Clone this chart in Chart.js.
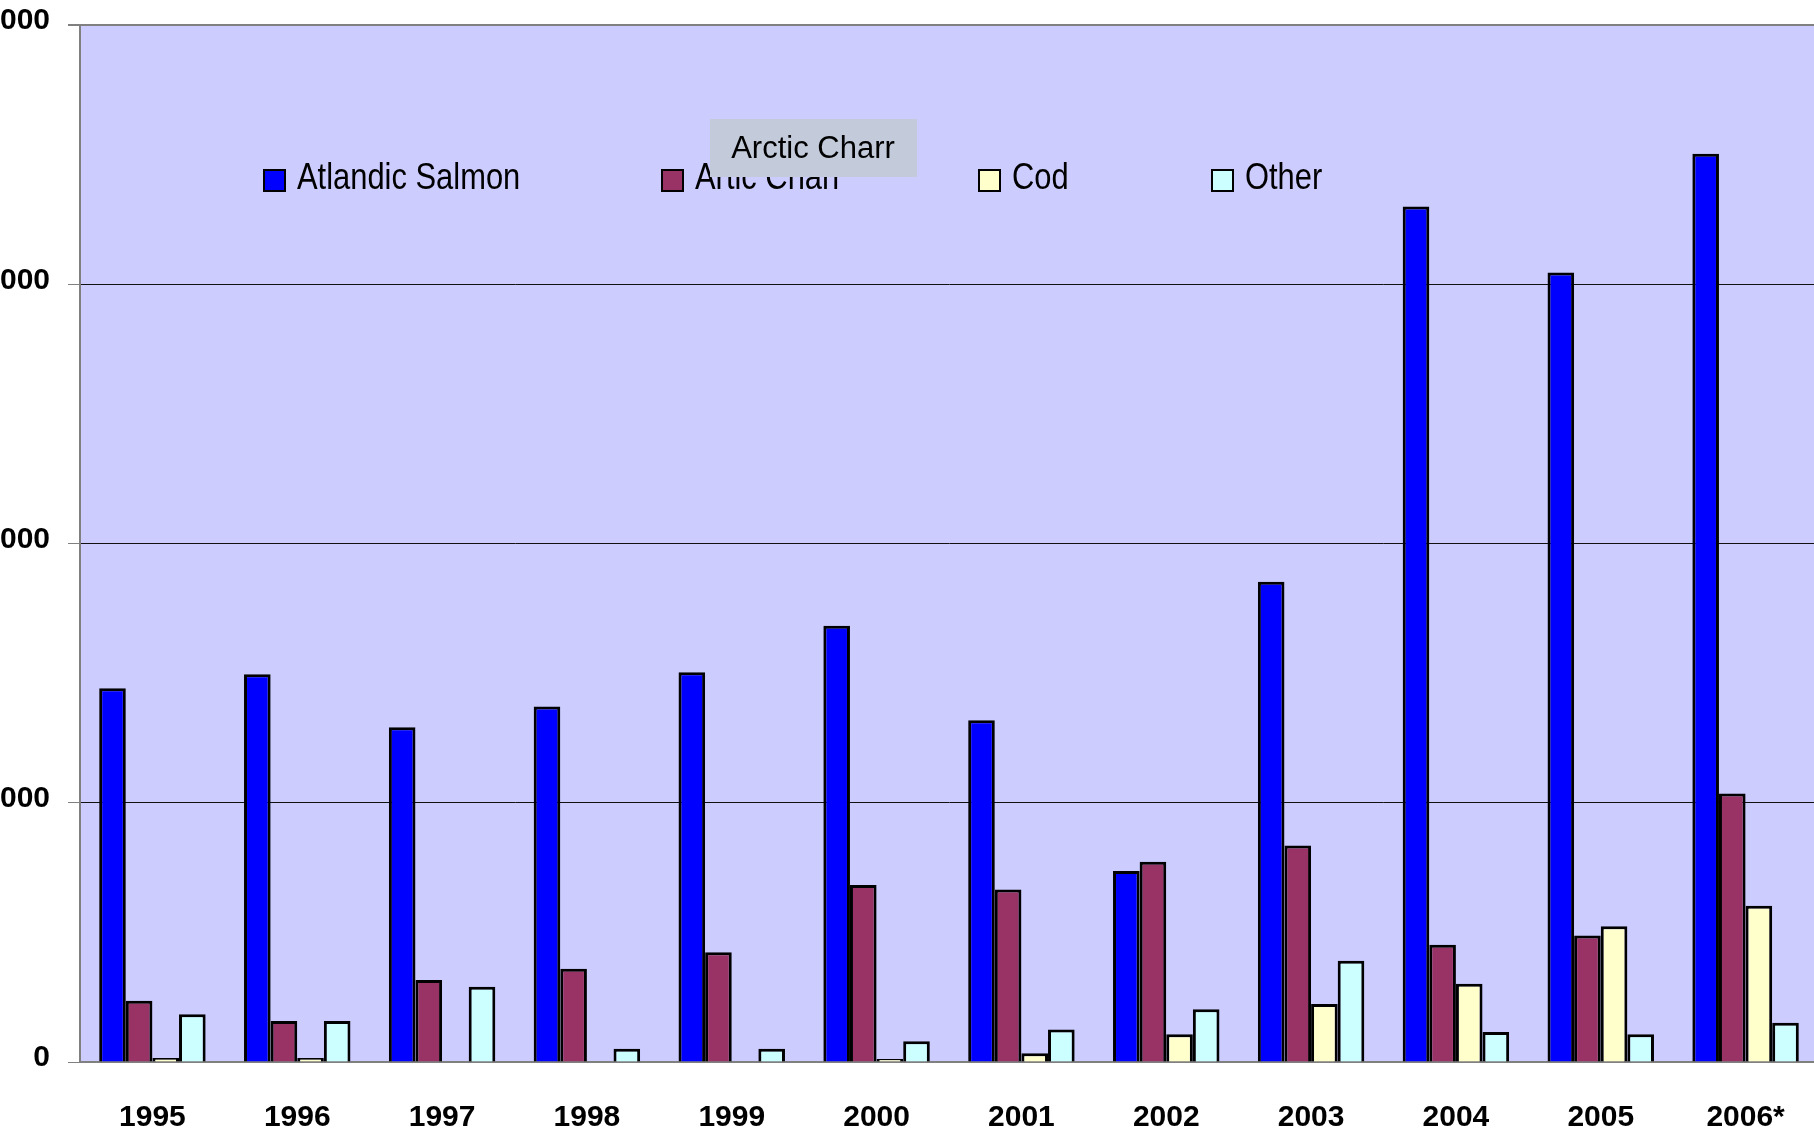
<!DOCTYPE html>
<html>
<head>
<meta charset="utf-8">
<title>Aquaculture production</title>
<script src="https://cdn.jsdelivr.net/npm/chart.js@4.4.1/dist/chart.umd.min.js"></script>
<style>
  html, body { margin: 0; padding: 0; background: #fff; overflow: hidden; width: 1814px; height: 1133px; }
  #wrap { position: absolute; left: -50px; top: 0; width: 1868px; height: 1133px; }
</style>
</head>
<body>
<div id="wrap"><canvas id="chart" width="1868" height="1133"></canvas></div>
<script>
// values (tonnes)
var years  = ['1995', '1996', '1997', '1998', '1999', '2000', '2001', '2002', '2003', '2004', '2005', '2006*'];
var salmon = [2883, 2991, 2583, 2742, 3007, 3366, 2637, 1473, 3705, 6600, 6090, 7006];
var charr  = [473, 316, 633, 720, 846, 1366, 1330, 1545, 1670, 905, 976, 2071];
var cod    = [31, 31, 0, 0, 0, 23, 67, 215, 447, 604, 1048, 1206];
var other  = [368, 316, 581, 103, 103, 160, 251, 406, 782, 231, 215, 303];
var yTicks = [0, 2000, 4000, 6000, 8000];

var sans = "'Liberation Sans', Arial, sans-serif";

// light blue plot area like the old Excel chart
var plotBackground = {
  id: 'plotBackground',
  beforeDraw: function(chart) {
    var a = chart.chartArea, ctx = chart.ctx;
    ctx.save();
    ctx.fillStyle = '#CCCCFF';
    ctx.fillRect(a.left, a.top, a.right - a.left, a.bottom - a.top);
    ctx.restore();
  }
};

// legend sits inside the plot, plus the hover label that was caught in the screenshot
var insideLegend = {
  id: 'insideLegend',
  afterDraw: function(chart) {
    var ctx = chart.ctx, left = chart.chartArea.left;
    var offsets = [184, 582, 899, 1132];
    ctx.save();
    ctx.textBaseline = 'middle';
    ctx.textAlign = 'left';
    chart.data.datasets.forEach(function(ds, i) {
      var x = left + offsets[i];
      ctx.fillStyle = ds.backgroundColor;
      ctx.fillRect(x, 170, 21, 21);
      ctx.lineWidth = 2;
      ctx.strokeStyle = '#000';
      ctx.strokeRect(x, 170, 21, 21);
      // narrow look: squeeze the text horizontally
      ctx.save();
      ctx.translate(x + 33, 179);
      ctx.scale(0.835, 1);
      ctx.font = '37px ' + sans;
      ctx.fillStyle = '#000';
      ctx.fillText(ds.label, 0, 0);
      ctx.restore();
    });

    ctx.fillStyle = '#C3CBDB';
    ctx.fillRect(left + 630, 119, 207, 58);
    ctx.fillStyle = '#000';
    ctx.font = '31px ' + sans;
    ctx.textAlign = 'center';
    ctx.fillText('Arctic Charr', left + 733, 149);
    ctx.restore();
  }
};

new Chart(document.getElementById('chart'), {
  type: 'bar',
  data: {
    labels: years,
    datasets: [
      { label: 'Atlandic Salmon', data: salmon, backgroundColor: '#0000FF' },
      { label: 'Artic Charr', data: charr, backgroundColor: '#993366' },
      { label: 'Cod', data: cod, backgroundColor: '#FFFFCC' },
      { label: 'Other', data: other, backgroundColor: '#CCFFFF' }
    ]
  },
  options: {
    responsive: false,
    animation: false,
    devicePixelRatio: 1,
    layout: { padding: { top: 25, left: 0, right: 0, bottom: 0 } },
    datasets: {
      bar: {
        borderColor: '#000',
        borderWidth: 3,
        categoryPercentage: 0.735,
        barPercentage: 1.0
      }
    },
    plugins: {
      legend: { display: false },
      tooltip: { enabled: false }
    },
    scales: {
      x: {
        grid: { display: false, drawTicks: false, tickLength: 0 },
        border: { display: true, color: '#808080', width: 2 },
        ticks: {
          color: '#000',
          font: { family: sans, size: 30, weight: 'bold' },
          padding: 38,
          maxRotation: 0,
          autoSkip: false
        },
        afterFit: function(axis) { axis.height = 71; axis.paddingLeft = 0; axis.paddingRight = 0; }
      },
      y: {
        min: 0,
        max: 8000,
        afterBuildTicks: function(axis) {
          axis.ticks = yTicks.map(function(v) { return { value: v }; });
        },
        grid: {
          color: function(c) { return (c.tick && (c.tick.value === 0 || c.tick.value === 8000)) ? '#808080' : '#111'; },
          lineWidth: function(c) { return (c.tick && c.tick.value === 8000) ? 2 : 1; },
          tickColor: '#808080',
          tickLength: 12
        },
        border: { display: true, color: '#808080', width: 2 },
        ticks: {
          color: '#000',
          font: { family: sans, size: 30, weight: 'bold' },
          padding: 18,
          labelOffset: -4
        },
        afterFit: function(axis) { axis.width = 130; axis.paddingTop = 0; axis.paddingBottom = 0; }
      }
    }
  },
  plugins: [plotBackground, insideLegend]
});
</script>
</body>
</html>
